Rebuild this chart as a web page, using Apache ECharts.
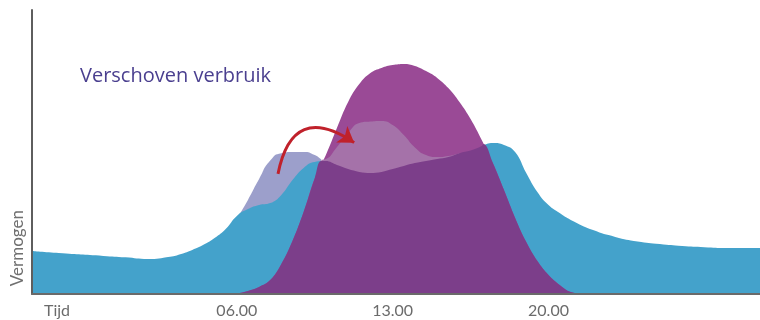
<!DOCTYPE html>
<html>
<head>
<meta charset="utf-8">
<script src="https://cdn.jsdelivr.net/npm/echarts@6/dist/echarts.min.js"></script>
<style>
  html, body { margin: 0; padding: 0; background: #ffffff; }
  #chart { width: 760px; height: 320px; }
</style>
</head>
<body>
<div id="chart"></div>
<script>
// Time of day in hours, power in relative units (0..10)
const consumptionHours = [-3.2, -2, 0, 1, 2, 3, 3.5, 4, 4.5, 5, 5.5, 6, 6.5, 7, 7.5, 8, 8.5, 9, 9.5, 10, 10.5, 11, 11.5, 12, 12.5, 13, 13.5, 14, 14.5, 15, 15.5, 16, 16.5, 17, 17.5, 18, 18.5, 19, 19.5, 20, 20.5, 21, 22, 23, 24, 25, 26, 27, 28, 29.5];
const consumption = [1.51, 1.44, 1.34, 1.29, 1.23, 1.31, 1.41, 1.55, 1.73, 1.97, 2.29, 2.75, 2.99, 3.13, 3.20, 3.49, 4.01, 4.44, 4.65, 4.68, 4.54, 4.40, 4.30, 4.26, 4.30, 4.40, 4.51, 4.61, 4.68, 4.75, 4.82, 4.96, 5.05, 5.21, 5.32, 5.25, 5.00, 4.26, 3.59, 3.13, 2.85, 2.61, 2.25, 2.01, 1.85, 1.76, 1.69, 1.65, 1.62, 1.62];

const productionHours = [5.6, 6, 6.5, 7, 7.5, 8, 8.5, 9, 9.5, 10, 10.5, 11, 11.5, 12, 12.5, 13, 13.5, 14, 14.5, 15, 15.5, 16, 16.5, 17, 17.5, 18, 18.5, 19, 19.5, 20, 20.5, 21, 21.6];
const production = [0, 0.02, 0.11, 0.25, 0.49, 1.06, 1.87, 2.89, 4.08, 4.89, 5.85, 6.76, 7.39, 7.78, 7.96, 8.06, 8.10, 8.03, 7.85, 7.61, 7.25, 6.76, 6.16, 5.42, 4.61, 3.66, 2.68, 1.83, 1.16, 0.67, 0.32, 0.07, 0];

// Part of the consumption covered directly by production
const overlapHours = [5.6, 6, 6.5, 7, 7.5, 8, 8.5, 9, 9.5, 9.78, 10, 10.5, 11, 11.5, 12, 12.5, 13, 13.5, 14, 14.5, 15, 15.5, 16, 16.5, 17, 17.09, 17.5, 18, 18.5, 19, 19.5, 20, 20.5, 21, 21.6];
const overlap = [0, 0.02, 0.11, 0.25, 0.49, 1.06, 1.87, 2.89, 4.08, 4.68, 4.68, 4.54, 4.40, 4.30, 4.26, 4.30, 4.40, 4.51, 4.61, 4.68, 4.75, 4.82, 4.96, 5.05, 5.21, 5.28, 4.61, 3.66, 2.68, 1.83, 1.16, 0.67, 0.32, 0.07, 0];

// Morning peak before shifting
const originalHours = [6.1, 6.5, 7, 7.5, 8, 8.5, 9, 9.5, 9.8];
const originalPeak = [2.78, 3.31, 4.05, 4.70, 4.96, 5.00, 5.00, 4.89, 4.72];

// The same peak moved into the solar hours
const shiftedHours = [9.8, 10, 10.5, 11, 11.5, 12, 12.5, 13, 13.5, 14, 14.5, 15, 15.5, 16];
const shiftedPeak = [4.72, 4.75, 5.18, 5.67, 6.02, 6.07, 6.09, 5.95, 5.60, 5.16, 4.89, 4.82, 4.86, 4.96];

const tickHours = [6, 13, 20];
const tickLabels = ['06.00', '13.00', '20.00'];

// Arrow from the old peak to the new one
const arrowFrom = [7.85, 4.23];
const arrowTo = [11.27, 5.33];

const pairs = (xs, ys) => xs.map((x, i) => [x, ys[i]]);

const FONT = 'Lato, "Open Sans", sans-serif';

function area(name, xs, ys, color, smooth) {
  return {
    name: name,
    type: 'line',
    data: pairs(xs, ys),
    smooth: smooth,
    showSymbol: false,
    symbol: 'none',
    lineStyle: { width: 0 },
    areaStyle: { color: color, opacity: 1 },
    silent: true,
    animation: false
  };
}

const chart = echarts.init(document.getElementById('chart'), null, { renderer: 'canvas' });

chart.setOption({
  animation: false,
  backgroundColor: '#ffffff',
  title: {
    text: 'Verschoven verbruik',
    left: 80,
    top: 66,
    padding: 0,
    textStyle: { color: '#4a3f8f', fontFamily: '"Open Sans", sans-serif', fontSize: 20, fontWeight: 'normal' }
  },
  grid: { left: 32, right: 0, top: 10, bottom: 26, containLabel: false },
  xAxis: {
    type: 'value',
    min: -3.2,
    max: 29.5,
    z: 10,
    name: 'Tijd',
    nameLocation: 'start',
    nameGap: -25,
    nameTextStyle: {
      color: '#6b6b6b', fontFamily: FONT, fontSize: 16,
      align: 'center', verticalAlign: 'top', padding: [9, 0, 0, 0]
    },
    axisLine: { show: true, onZero: false, lineStyle: { color: '#6a6a6a', width: 2 } },
    axisTick: { show: false },
    splitLine: { show: false },
    axisLabel: {
      customValues: tickHours,
      formatter: (v) => tickLabels[tickHours.indexOf(v)],
      color: '#6b6b6b',
      fontFamily: FONT,
      fontSize: 16,
      margin: 9
    }
  },
  yAxis: {
    type: 'value',
    min: 0,
    max: 10,
    z: 10,
    axisLine: { show: true, onZero: false, lineStyle: { color: '#5e5e5e', width: 2 } },
    axisTick: { show: false },
    axisLabel: { show: false },
    splitLine: { show: false }
  },
  graphic: [{
    type: 'text',
    left: 9,
    top: 210,
    rotation: Math.PI / 2,
    style: {
      text: 'Vermogen',
      fill: '#707070',
      font: '17px ' + FONT
    }
  }],
  series: [
    area('Oorspronkelijk verbruik', originalHours, originalPeak, '#9c9fcb', 0.6),
    area('Verbruik', consumptionHours, consumption, '#44a2cb', 0.5),
    area('Zonne-opwekking', productionHours, production, '#9a4a96', 0.45),
    area('Verschoven verbruik', shiftedHours, shiftedPeak, '#a572a9', 0.5),
    area('Direct verbruik', overlapHours, overlap, '#7c3e8a', 0.4),
    {
      name: 'Verschuiving',
      type: 'lines',
      coordinateSystem: 'cartesian2d',
      silent: true,
      animation: false,
      z: 5,
      symbol: ['none', 'arrow'],
      symbolSize: [13, 15],
      lineStyle: { color: '#c0212b', width: 3, opacity: 1, curveness: 0.75 },
      data: [{ coords: [arrowFrom, arrowTo] }]
    }
  ]
});
</script>
</body>
</html>
